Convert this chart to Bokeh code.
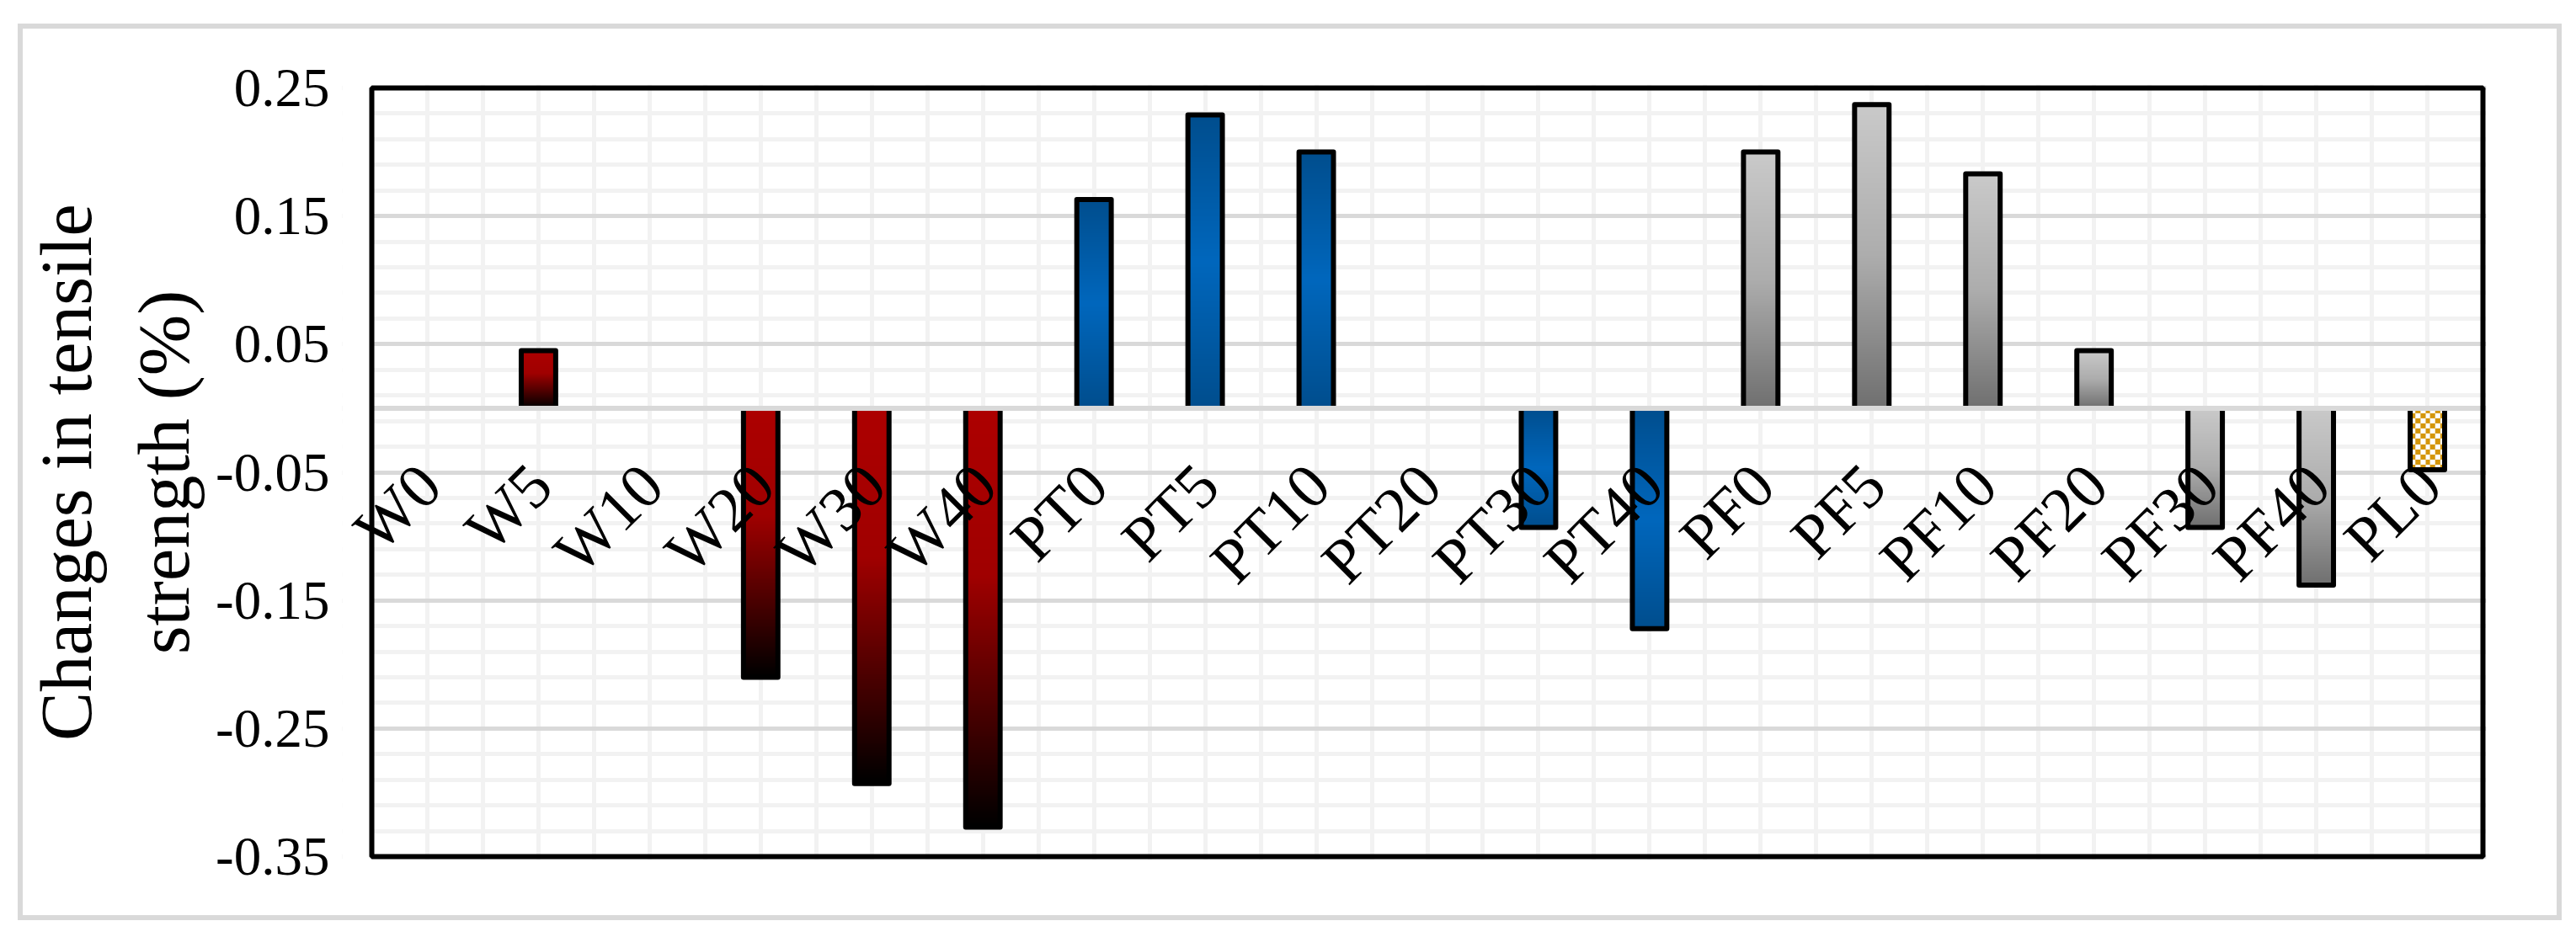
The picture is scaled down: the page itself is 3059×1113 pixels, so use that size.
import numpy as np
from bokeh.plotting import figure
from bokeh.models import FixedTicker, Span, Range1d, Label, BoxAnnotation
from bokeh.embed import file_html
from bokeh.resources import INLINE

# ---------------- data ----------------
categories = ["W0", "W5", "W10", "W20", "W30", "W40",
              "PT0", "PT5", "PT10", "PT20", "PT30", "PT40",
              "PF0", "PF5", "PF10", "PF20", "PF30", "PF40", "PL0"]
values = [0.0, 0.045, 0.0, -0.210, -0.293, -0.327,
          0.163, 0.229, 0.200, 0.0, -0.093, -0.172,
          0.200, 0.237, 0.183, 0.045, -0.093, -0.138, -0.048]
y_ticks = [-0.35, -0.25, -0.15, -0.05, 0.05, 0.15, 0.25]
y_tick_labels = ["-0.35", "-0.25", "-0.15", "-0.05", "0.05", "0.15", "0.25"]
y_title = "Changes in tensile\nstrength (%)"

FONT = "Liberation Serif"
Y_MIN, Y_MAX = -0.35, 0.25
N = len(categories)

# plot-area size in px and small extra strips so that the first label is not clipped
PLOT_W, PLOT_H = 2507, 913
STRIP_L, STRIP_R, STRIP_TB = 35, 4, 4
ux = PLOT_W / N
uy = PLOT_H / (Y_MAX - Y_MIN)

p = figure(width=3021, height=1065,
           x_range=Range1d(-STRIP_L / ux, N + STRIP_R / ux),
           y_range=Range1d(Y_MIN - STRIP_TB / uy, Y_MAX + STRIP_TB / uy),
           output_backend="svg", toolbar_location=None,
           min_border_left=420 - STRIP_L, min_border_right=94 - STRIP_R,
           min_border_top=76 - STRIP_TB, min_border_bottom=76 - STRIP_TB)
p.margin = (28, 0, 0, 21)
# light grey outer chart border
p.styles = {"outline": "6px solid #d9d9d9", "outline-offset": "-6px",
            "background-color": "white"}
p.background_fill_color = "white"
p.border_fill_color = None
p.border_fill_alpha = 0
p.outline_line_color = None

# ---------------- axes ----------------
p.xaxis.visible = False
ax = p.yaxis[0]
ax.ticker = FixedTicker(ticks=y_ticks, minor_ticks=[])
ax.major_label_overrides = {t: l for t, l in zip(y_ticks, y_tick_labels)}
ax.axis_line_color = None
ax.major_tick_line_color = None
ax.minor_tick_line_color = None
ax.major_tick_out = 0
ax.major_tick_in = 0
ax.major_label_standoff = 50 - STRIP_L
ax.major_label_text_font = FONT
ax.major_label_text_font_size = "65px"
ax.major_label_text_color = "black"
ax.axis_label = y_title
ax.axis_label_text_font = FONT
ax.axis_label_text_font_size = "87px"
ax.axis_label_text_font_style = "normal"
ax.axis_label_text_color = "black"
ax.axis_label_standoff = 10

# ---------------- grids ----------------
minor_y = [round(v, 2) for v in np.arange(Y_MIN, Y_MAX + 0.0001, 0.02)]
minor_y = [v for v in minor_y if all(abs(v - t) > 1e-6 for t in y_ticks)]
p.ygrid.ticker = FixedTicker(ticks=y_ticks, minor_ticks=minor_y)
p.ygrid.grid_line_color = "#d9d9d9"
p.ygrid.grid_line_width = 5
p.ygrid.minor_grid_line_color = "#f2f2f2"
p.ygrid.minor_grid_line_width = 5
p.xgrid.ticker = FixedTicker(ticks=[k * 0.5 for k in range(1, 2 * N)])
p.xgrid.grid_line_color = "#f2f2f2"
p.xgrid.grid_line_width = 5


# ---------------- bar fills ----------------
def hex2rgb(h):
    h = h.lstrip("#")
    return [int(h[i:i + 2], 16) for i in (0, 2, 4)]


def gradient_image(stops, n=240):
    # stops: (position from top 0..1, colour)
    pos = np.array([s[0] for s in stops])
    cols = np.array([hex2rgb(s[1]) for s in stops], dtype=float)
    t = np.linspace(1.0, 0.0, n)  # row 0 is the bottom of the image
    img = np.empty((n, 1), dtype=np.uint32)
    view = img.view(dtype=np.uint8).reshape((n, 1, 4))
    for c in range(3):
        view[:, 0, c] = np.interp(t, pos, cols[:, c]).astype(np.uint8)
    view[:, 0, 3] = 255
    return img


def checker_image(rows, cols=7):
    img = np.empty((rows, cols), dtype=np.uint32)
    view = img.view(dtype=np.uint8).reshape((rows, cols, 4))
    gold = hex2rgb("#d4960a")
    for r in range(rows):
        for c in range(cols):
            col = gold if (r + c) % 2 == 0 else [255, 255, 255]
            view[r, c, :3] = col
            view[r, c, 3] = 255
    return img


STYLES = {
    "W": [(0.0, "#ad0000"), (0.4, "#a00000"), (1.0, "#000000")],
    "PT": [(0.0, "#004e8e"), (0.5, "#0067bd"), (1.0, "#004e8e")],
    "PF": [(0.0, "#cacaca"), (0.5, "#adadad"), (1.0, "#707070")],
}

BAR_W = 0.31
xs, tops = [], []
for i, (cat, v) in enumerate(zip(categories, values)):
    if v == 0:
        continue
    xc = i + 0.5
    xs.append(xc)
    tops.append(v)
    prefix = cat.rstrip("0123456789")
    if prefix == "PL":
        rows = max(2, int(round(abs(v) / 0.004)))
        img = checker_image(rows)
    else:
        img = gradient_image(STYLES[prefix])
    p.image_rgba(image=[img], x=xc - BAR_W / 2, y=min(0.0, v), dw=BAR_W, dh=abs(v))

p.vbar(x=xs, top=tops, bottom=0, width=BAR_W, fill_alpha=0,
       line_color="black", line_width=6, line_join="round")

# category axis line at zero
p.add_layout(Span(location=0, dimension="width", line_color="#d9d9d9",
                  line_width=6, level="overlay"))

# blank the small strip left of the plot area (only there so labels can overhang)
p.add_layout(BoxAnnotation(right=0, fill_color="white", fill_alpha=1,
                           line_color=None, line_alpha=0, level="overlay"))

# black plot-area border
p.add_layout(BoxAnnotation(left=0, right=N, bottom=Y_MIN, top=Y_MAX,
                           fill_color=None, fill_alpha=0,
                           line_color="black", line_alpha=1, line_width=6,
                           level="overlay"))

# category labels (rotated, sitting just under the zero line)
for i, cat in enumerate(categories):
    p.add_layout(Label(x=i + 0.52, y=-0.052, text=cat,
                       angle=np.pi / 4, text_align="right", text_baseline="middle",
                       text_font=FONT, text_font_size="75px", text_color="black",
                       level="overlay"))

open("out.html", "w").write(file_html(p, INLINE))
